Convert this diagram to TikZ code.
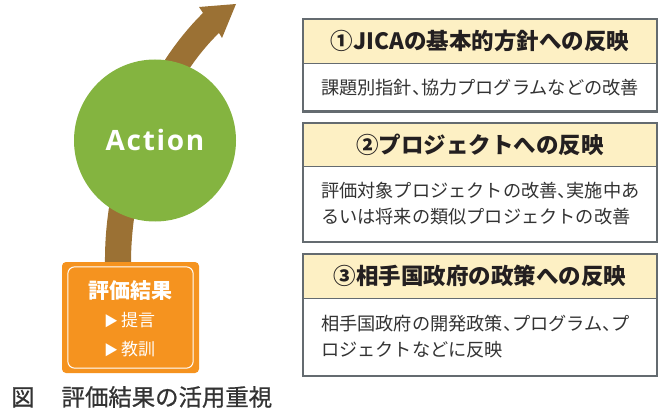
\documentclass[tikz,border=0pt]{standalone}
\usepackage{fontspec}
\newfontfamily\cjk{Noto Sans CJK JP}
\newfontfamily\cjkmed{Noto Sans CJK JP}[FakeBold=0.8]
\newfontfamily\actfont{Open Sans}[LetterSpace=6]
\usetikzlibrary{positioning,calc}
\definecolor{actgreen}{HTML}{84B440}
\definecolor{arrbrown}{HTML}{9B7134}
\definecolor{resorange}{HTML}{F5931F}
\definecolor{hdryellow}{HTML}{FDF0C4}
\definecolor{framegray}{HTML}{646B70}
\definecolor{txtdark}{HTML}{231F20}
\definecolor{txtbody}{HTML}{333333}
\newcommand{\tc}{、\kern-0.5em}
\tikzset{
  hdr/.style={fill=hdryellow, minimum width=354pt, inner sep=0pt, text=txtdark,
    font=\cjk\bfseries\fontsize{22.5}{26}\selectfont},
  bdy/.style={fill=white, minimum width=354pt, text width=318pt, inner xsep=18pt, inner ysep=0pt,
    align=left, text=txtbody, font=\cjk\fontsize{18.2}{26}\selectfont},
  frame/.style={draw=framegray, line width=2.2pt},
  divider/.style={draw=framegray, line width=1pt},
  restext/.style={text=white, inner sep=0pt},
}
\begin{document}
\begin{tikzpicture}[x=1pt,y=-1pt]
\useasboundingbox (0,0) rectangle (661,414);
% arrow
\coordinate (as) at (118,263);
\fill[arrbrown] (105,263) .. controls (104,168) and (145,70) .. (203,13)
  -- (199,7) -- (236,4) -- (222,38) -- (219,33)
  .. controls (168,82) and (131,175) .. (131,263) -- cycle;
% circle
\node (act) [circle, fill=actgreen, minimum size=162pt, inner sep=0pt, text=white,
  font=\actfont\bfseries\fontsize{28}{30}\selectfont] at (155,140.5) {Action};
% result box
\node (res) [fill=resorange, rounded corners=4pt, minimum width=137pt, minimum height=111pt, inner sep=0pt]
  at (130.5,317.5) {};
\draw[white, line width=1pt, rounded corners=7pt] ($(res.north west)+(6pt,-5pt)$) rectangle ($(res.south east)+(-6pt,5pt)$);
\node (r1) [restext, font=\cjk\bfseries\fontsize{21}{24}\selectfont] at (130.5,291) {評価結果};
\node (r2) [restext, font=\cjk\fontsize{17}{20}\selectfont] at (129.5,320.5) {{\fontsize{14}{14}\selectfont ▶}\kern3pt 提言};
\node (r3) [restext, font=\cjk\fontsize{17}{20}\selectfont] at (129.5,349.5) {{\fontsize{14}{14}\selectfont ▶}\kern3pt 教訓};
% box 1
\node (h1) [hdr, minimum height=43.5pt] at (480,41.25) {①JICAの基本的方針への反映};
\node (b1) [bdy, minimum height=48pt, below=0pt of h1] {課題別指針\tc 協力プログラムなどの改善};
\draw[divider] (h1.south west) -- (h1.south east);
\draw[frame] (h1.north west) rectangle (b1.south east);
% box 2
\node (h2) [hdr, minimum height=43pt] at (480,144.5) {②プロジェクトへの反映};
\node (b2) [bdy, minimum height=75pt, below=0pt of h2] {評価対象プロジェクトの改善\tc 実施中あ\\るいは将来の類似プロジェクトの改善};
\draw[divider] (h2.south west) -- (h2.south east);
\draw[frame] (h2.north west) rectangle (b2.south east);
% box 3
\node (h3) [hdr, minimum height=44pt] at (480,276) {③相手国政府の政策への反映};
\node (b3) [bdy, minimum height=77pt, below=0pt of h3] {相手国政府の開発政策\tc プログラム\tc プ\\ロジェクトなどに反映};
\draw[divider] (h3.south west) -- (h3.south east);
\draw[frame] (h3.north west) rectangle (b3.south east);
% caption
\node (cap) [anchor=west, inner sep=0pt, text=txtbody, font=\cjkmed\fontsize{23.4}{26}\selectfont] at (11,397)
  {図\hspace{27pt}評価結果の活用重視};
\end{tikzpicture}
\end{document}
